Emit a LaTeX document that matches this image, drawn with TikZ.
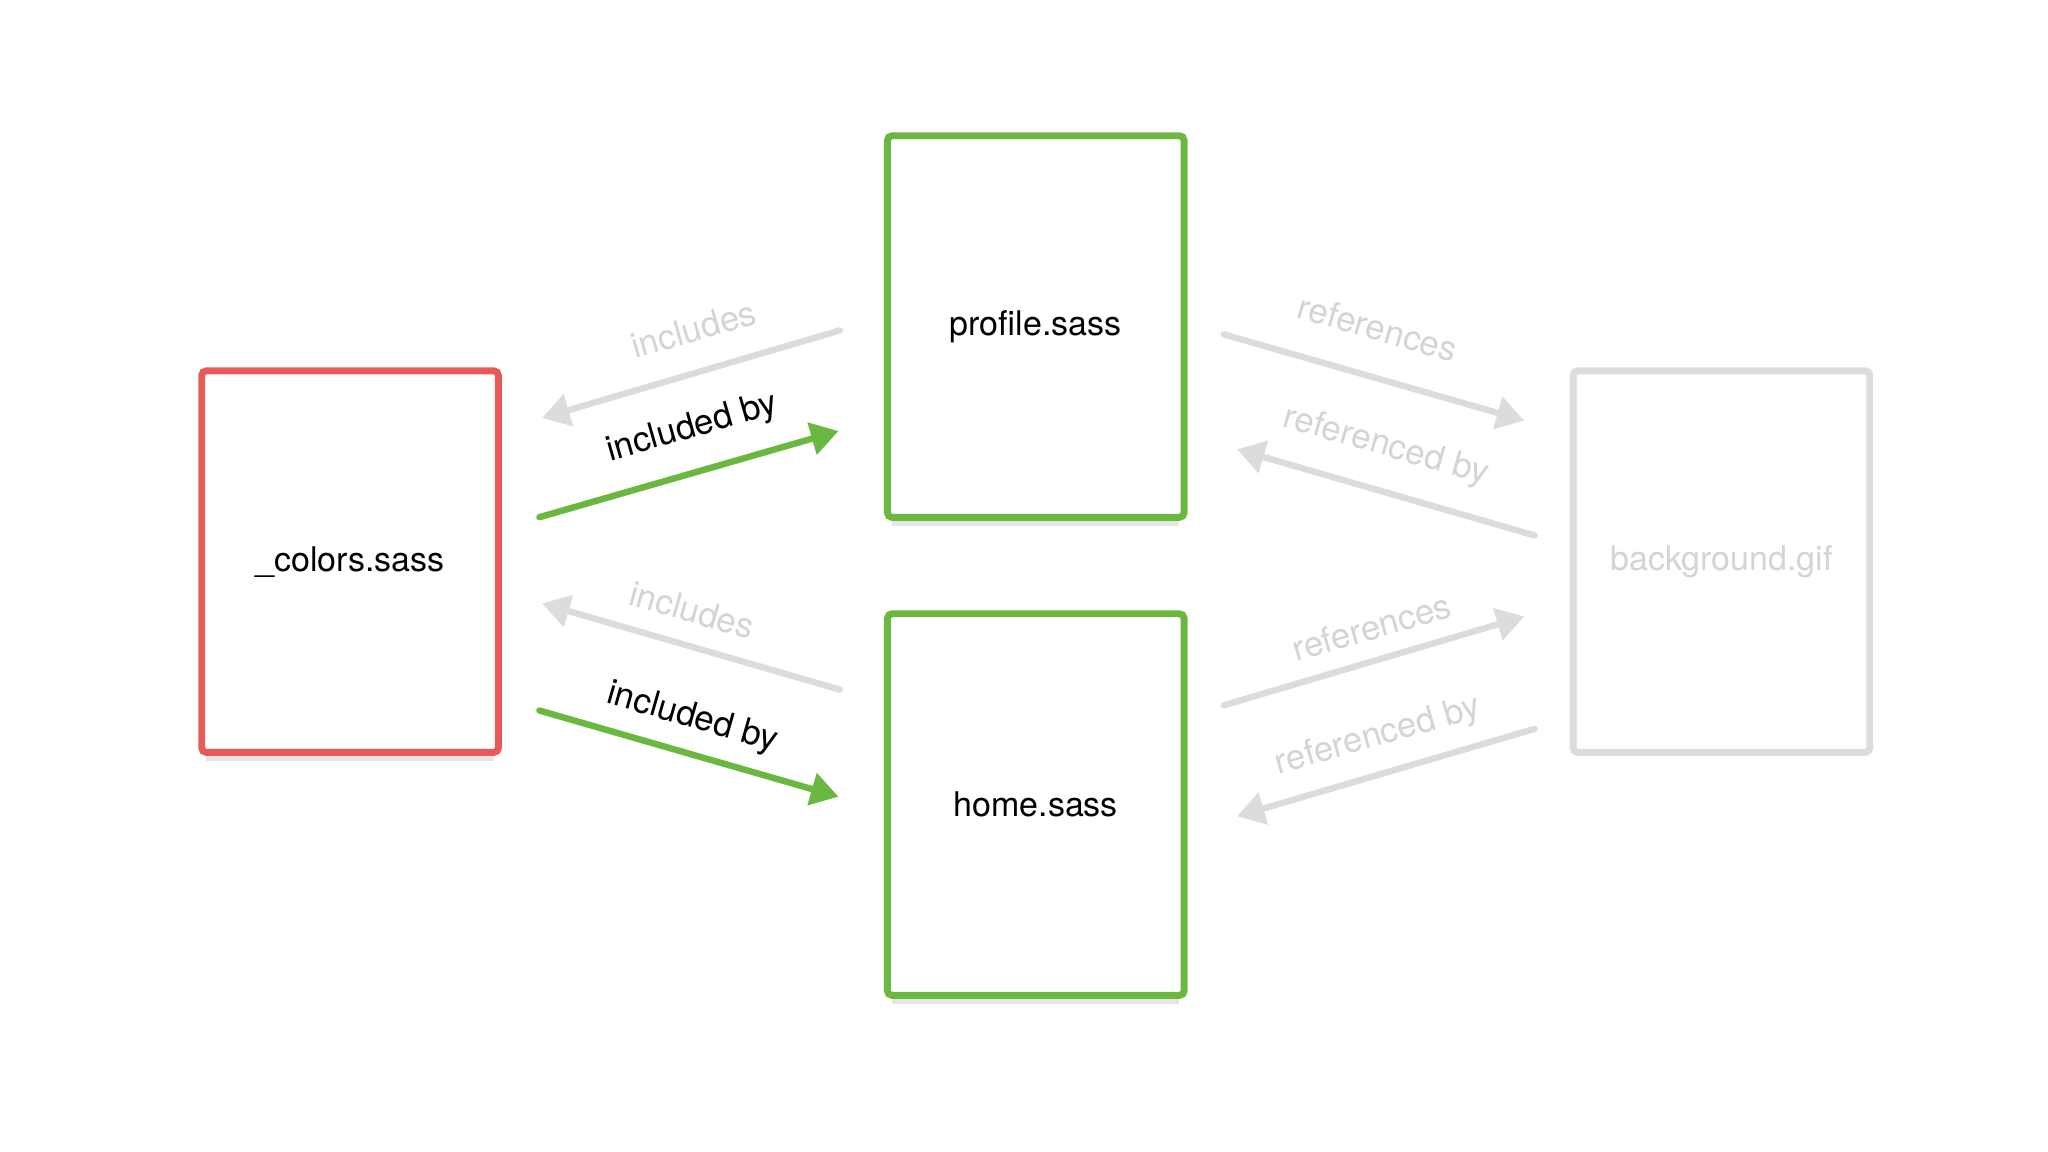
\documentclass[tikz,border=0pt]{standalone}
\usepackage{fontspec}
\setmainfont{TeX Gyre Heros}
\usetikzlibrary{arrows.meta}
\definecolor{cred}{HTML}{E85A5A}
\definecolor{cgreen}{HTML}{6AB840}
\definecolor{cgray}{HTML}{DCDCDC}
\definecolor{tgray}{HTML}{D4D4D4}
\begin{document}
\begin{tikzpicture}[x=0.01cm,y=-0.01cm,
  file/.style={draw, line width=1.5pt, rounded corners=1pt, minimum width=2.27cm, minimum height=2.92cm, fill=white, font=\fontsize{7.4}{8}\selectfont, inner sep=0pt},
  link/.style={line width=1.4pt, line cap=round, -{Triangle[length=6pt,width=7pt]}},
  lab/.style={font=\fontsize{7.6}{8}\selectfont, inner sep=1pt}]
\useasboundingbox (0,0) rectangle (1568,882);
\foreach \x/\y in {268/430,793/250,793/616}
  \fill[black!10] (\x-110,\y+148) rectangle (\x+110,\y+153);
\node[file, draw=cred] (colors) at (268,430) {\_colors.sass};
\node[file, draw=cgreen] (profile) at (793,250) {profile.sass};
\node[file, draw=cgreen] (home) at (793,616) {home.sass};
\node[file, draw=cgray, text=tgray] (bg) at (1318,430) {background.gif};
\coordinate (a1) at (643,253); \coordinate (a2) at (415,320);
\coordinate (b1) at (413,396); \coordinate (b2) at (642,330);
\coordinate (c1) at (643,528); \coordinate (c2) at (415,462);
\coordinate (d1) at (413,544); \coordinate (d2) at (642,610);
\coordinate (e1) at (937,256); \coordinate (e2) at (1167,322);
\coordinate (f1) at (1175,410); \coordinate (f2) at (947,344);
\coordinate (g1) at (937,540); \coordinate (g2) at (1167,472);
\coordinate (h1) at (1175,558); \coordinate (h2) at (947,625);
\draw[link, cgray] (a1) -- (a2);
\draw[link, cgreen] (b1) -- (b2);
\draw[link, cgray] (c1) -- (c2);
\draw[link, cgreen] (d1) -- (d2);
\draw[link, cgray] (e1) -- (e2);
\draw[link, cgray] (f1) -- (f2);
\draw[link, cgray] (g1) -- (g2);
\draw[link, cgray] (h1) -- (h2);
\node[lab, text=tgray, rotate=16] (la) at (531,252) {includes};
\node[lab, rotate=16] (lb) at (530,328) {included by};
\node[lab, text=tgray, rotate=-16] (lc) at (530,467) {includes};
\node[lab, rotate=-16] (ld) at (530,550) {included by};
\node[lab, text=tgray, rotate=-16] (le) at (1055,251) {references};
\node[lab, text=tgray, rotate=-16] (lf) at (1061,342) {referenced by};
\node[lab, text=tgray, rotate=16] (lg) at (1050,480) {references};
\node[lab, text=tgray, rotate=16] (lh) at (1055,564) {referenced by};
\end{tikzpicture}
\end{document}
